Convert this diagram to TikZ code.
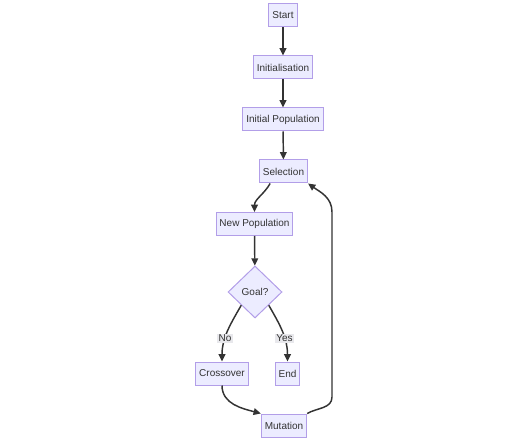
\documentclass[tikz,border=0pt]{standalone}
\usepackage{fontspec}
\setmainfont{Liberation Sans}
\usetikzlibrary{arrows.meta}
\usetikzlibrary{shapes.geometric}
\definecolor{mfill}{RGB}{236,236,255}
\definecolor{mline}{RGB}{178,158,232}
\definecolor{mtext}{RGB}{51,51,51}
\definecolor{mlabel}{RGB}{232,232,236}

\begin{document}
\begin{tikzpicture}[x=0.75pt, y=0.75pt,
box/.style={draw=mline, fill=mfill, line width=0.75pt, text=mtext, font=\fontsize{7.5}{9}\selectfont, inner xsep=2.6pt, inner ysep=0pt, minimum height=17.25pt},
goalbox/.style={box, diamond, minimum width=40.5pt, minimum height=39pt, inner sep=0pt},
flow/.style={draw=mtext, line width=1.1pt, -{Triangle[length=5.5pt,width=5pt]}},
lbl/.style={fill=mlabel, text=mtext, font=\fontsize{7.5}{9}\selectfont, inner sep=1pt}]
\useasboundingbox (0,0) rectangle (530,442);

%boxes
\node[box] (start) at (283,426.5) {Start};
\node[box] (init) at (283,374.5) {Initialisation};
\node[box] (initpop) at (283,322.5) {Initial Population};
\node[box] (sel) at (283.5,270.5) {Selection};
\node[box] (newpop) at (254.5,218) {New Population};
\node[goalbox] (goal) at (255,150) {Goal?};
\node[box] (cross) at (222,68.5) {Crossover};
\node[box] (stop) at (287.5,68.5) {End};
\node[box] (mut) at (284,16.5) {Mutation};

%loop corners
\coordinate (loopbot) at (332,45);
\coordinate (looptop) at (332,230);

%arrows
\draw[flow] ([xshift=-0pt]start.south) -- (init.north);
\draw[flow] (init) -- (initpop);
\draw[flow] (initpop) -- (sel);
\draw[flow] ([xshift=-10pt]sel.south) to[out=-120,in=90] (newpop.north);
\draw[flow] (newpop) -- (goal);
\draw[flow] (goal.south west) to[out=-120,in=90] node[lbl,pos=0.62] {No} (cross.north);
\draw[flow] (goal.south east) to[out=-60,in=90] node[lbl,pos=0.62] {Yes} (stop.north);
\draw[flow] (cross.south) to[out=-90,in=165] (mut.north west);
\draw[flow] (mut.north east) to[out=30,in=-90] (loopbot) -- (looptop) to[out=90,in=-35] (sel.south east);

\end{tikzpicture}
\end{document}
